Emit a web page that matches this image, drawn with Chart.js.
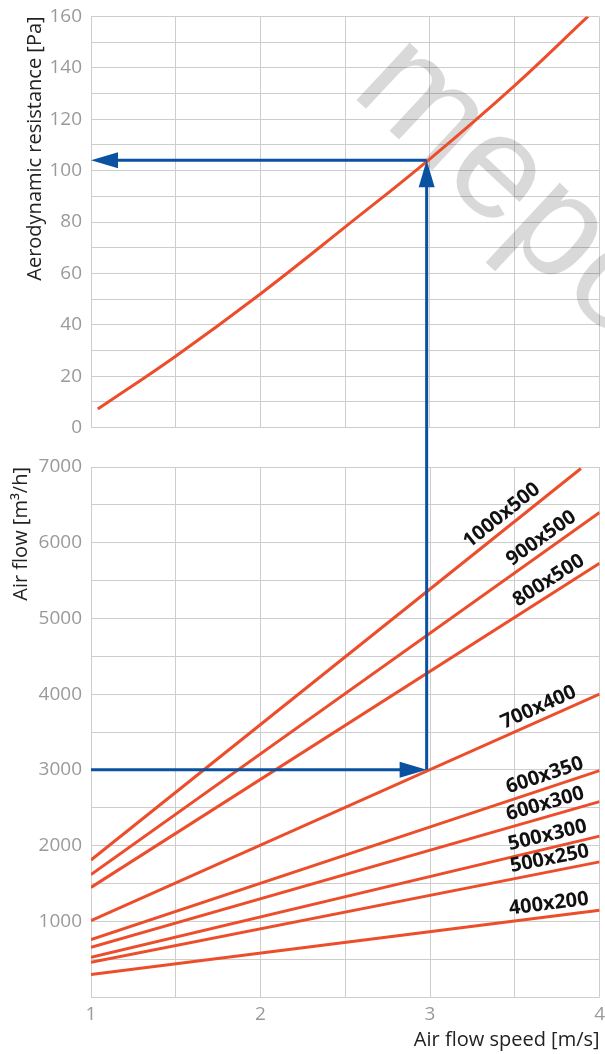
<!DOCTYPE html>
<html>
<head>
<meta charset="utf-8">
<script src="https://cdn.jsdelivr.net/npm/chart.js@4"></script>
<style>
  body { margin: 0; background: #fff; overflow: hidden; }
  #wrap { position: relative; width: 605px; height: 1054px; overflow: hidden; }
  canvas { position: absolute; left: 0; top: 0; }
  #top { z-index: 1; top: -4px; }
  #bottom { z-index: 2; }
</style>
</head>
<body>
<div id="wrap">
  <canvas id="top" width="605" height="452"></canvas>
  <canvas id="bottom" width="611" height="1054"></canvas>
</div>
<script>
// resistance curve (top panel)
const resSpeed = [1.04, 1.5, 2, 2.5, 3, 3.5, 3.935];
const resPa = [7.2, 27.8, 52, 78, 104.5, 133, 160];

// air flow per duct size (bottom panel)
const ductSizes = ['1000x500', '900x500', '800x500', '700x400', '600x350', '600x300', '500x300', '500x250', '400x200'];
const flowStart = [1810, 1616, 1448, 1009, 759, 657, 525, 459, 297];   // at 1 m/s
const flowEndSpeed = [3.89, 4, 4, 4, 4, 4, 4, 4, 4];
const flowEnd = [6980, 6400, 5730, 4000, 2990, 2580, 2125, 1785, 1145];
const labelSpeed = [3.47, 3.70, 3.74, 3.67, 3.70, 3.70, 3.71, 3.72, 3.71];

// example reading
const arrowSpeed = 2.98;
const arrowFlow = 3000;
const arrowRes = 104;

const xTicks = [1, 2, 3, 4];

const red = '#ec4e2b';
const blue = '#0a51a1';
const gridColor = '#cdcdcd';
const tickColor = '#9a9a9a';
const titleColor = '#222';
const fam = "'Open Sans', sans-serif";
const topShift = -4; // css offset of the top canvas

const watermark = {
  id: 'watermark',
  beforeDatasetsDraw(chart) {
    const ctx = chart.ctx;
    ctx.save();
    ctx.translate(349, 97);
    ctx.rotate(43 * Math.PI / 180);
    ctx.font = "148px 'Liberation Sans', sans-serif";
    ctx.fillStyle = 'rgba(0,0,0,0.15)';
    ctx.textBaseline = 'alphabetic';
    ctx.fillText('mepo', 0, 0);
    ctx.restore();
  }
};

const topChart = new Chart(document.getElementById('top'), {
  type: 'line',
  data: {
    datasets: [{
      data: resSpeed.map((v, i) => ({ x: v, y: resPa[i] })),
      borderColor: red,
      borderWidth: 3,
      pointRadius: 0,
      tension: 0.4
    }]
  },
  options: {
    responsive: false,
    animation: false,
    layout: { padding: { top: 0, right: 6, bottom: 0, left: 0 } },
    plugins: { legend: { display: false }, tooltip: { enabled: false } },
    scales: {
      x: {
        type: 'linear', min: 1, max: 4,
        ticks: { stepSize: 0.5, display: false },
        grid: { color: gridColor, drawTicks: false },
        border: { display: false },
        afterFit: s => { s.height = 0; }
      },
      y: {
        min: 0, max: 160,
        ticks: {
          stepSize: 10, padding: 9, autoSkip: false, color: tickColor,
          font: { family: fam, size: 19 },
          callback: v => (v % 20 === 0 ? v : '')
        },
        grid: { color: gridColor, drawTicks: false },
        border: { display: false },
        title: {
          display: true, text: 'Aerodynamic resistance [Pa]', align: 'end',
          color: titleColor, font: { family: fam, size: 20 },
          padding: { top: 23, bottom: 0 }
        },
        afterFit: s => { s.width = 91; }
      }
    }
  },
  plugins: [watermark]
});

const sizeLabels = {
  id: 'sizeLabels',
  afterDatasetsDraw(chart) {
    const ctx = chart.ctx;
    const xs = chart.scales.x, ys = chart.scales.y;
    ctx.save();
    ctx.font = "bold 20px 'Open Sans', sans-serif";
    ctx.fillStyle = '#111';
    ctx.textAlign = 'center';
    ctx.textBaseline = 'alphabetic';
    ductSizes.forEach((name, i) => {
      const x1 = xs.getPixelForValue(1), y1 = ys.getPixelForValue(flowStart[i]);
      const x2 = xs.getPixelForValue(flowEndSpeed[i]), y2 = ys.getPixelForValue(flowEnd[i]);
      const t = (labelSpeed[i] - 1) / (flowEndSpeed[i] - 1);
      const px = x1 + (x2 - x1) * t, py = y1 + (y2 - y1) * t;
      ctx.save();
      ctx.translate(px, py);
      ctx.rotate(Math.atan2(y2 - y1, x2 - x1));
      ctx.fillText(name, 0, -7);
      ctx.restore();
    });
    ctx.restore();
  }
};

function arrowHead(ctx, tx, ty, dx, dy) {
  const len = 27, half = 8;
  const bx = tx - dx * len, by = ty - dy * len;
  ctx.beginPath();
  ctx.moveTo(tx, ty);
  ctx.lineTo(bx - dy * half, by + dx * half);
  ctx.lineTo(bx + dy * half, by - dx * half);
  ctx.closePath();
  ctx.fill();
}

const arrows = {
  id: 'arrows',
  afterDraw(chart) {
    const ctx = chart.ctx;
    const x0 = chart.scales.x.getPixelForValue(1);
    const ax = chart.scales.x.getPixelForValue(arrowSpeed);
    const yf = chart.scales.y.getPixelForValue(arrowFlow);
    const yr = topChart.scales.y.getPixelForValue(arrowRes) + topShift;
    ctx.save();
    ctx.strokeStyle = blue;
    ctx.fillStyle = blue;
    ctx.lineWidth = 3;
    ctx.beginPath();
    ctx.moveTo(x0, yf); ctx.lineTo(ax - 20, yf);
    ctx.moveTo(ax, yf); ctx.lineTo(ax, yr + 20);
    ctx.moveTo(ax, yr); ctx.lineTo(x0 + 20, yr);
    ctx.stroke();
    arrowHead(ctx, ax, yf, 1, 0);
    arrowHead(ctx, ax, yr, 0, -1);
    arrowHead(ctx, x0, yr, -1, 0);
    ctx.restore();
  }
};

new Chart(document.getElementById('bottom'), {
  type: 'line',
  data: {
    datasets: ductSizes.map((name, i) => ({
      label: name,
      data: [{ x: 1, y: flowStart[i] }, { x: flowEndSpeed[i], y: flowEnd[i] }],
      borderColor: red,
      borderWidth: 3,
      pointRadius: 0
    }))
  },
  options: {
    responsive: false,
    animation: false,
    layout: { padding: { top: 467, right: 0, bottom: 0, left: 0 } },
    plugins: { legend: { display: false }, tooltip: { enabled: false } },
    scales: {
      x: {
        type: 'linear', min: 1, max: 4,
        ticks: {
          stepSize: 0.5, padding: 6, autoSkip: false, maxRotation: 0, color: tickColor,
          font: { family: fam, size: 19 },
          callback: v => (xTicks.includes(v) ? v : '')
        },
        grid: { color: gridColor, drawTicks: false },
        border: { display: false },
        title: {
          display: true, text: 'Air flow speed [m/s]', align: 'end',
          color: titleColor, font: { family: fam, size: 20 },
          padding: { top: 0, bottom: 2 }
        },
        afterFit: s => { s.height = 57; }
      },
      y: {
        min: 0, max: 7000,
        ticks: {
          stepSize: 500, padding: 9, autoSkip: false, color: tickColor,
          font: { family: fam, size: 19 },
          callback: v => (v > 0 && v % 1000 === 0 ? v : '')
        },
        grid: { color: gridColor, drawTicks: false },
        border: { display: false },
        title: {
          display: true, text: 'Air flow [m³/h]', align: 'end',
          color: titleColor, font: { family: fam, size: 20 },
          padding: { top: 9, bottom: 0 }
        },
        afterFit: s => { s.width = 91; }
      }
    }
  },
  plugins: [sizeLabels, arrows]
});
</script>
</body>
</html>
